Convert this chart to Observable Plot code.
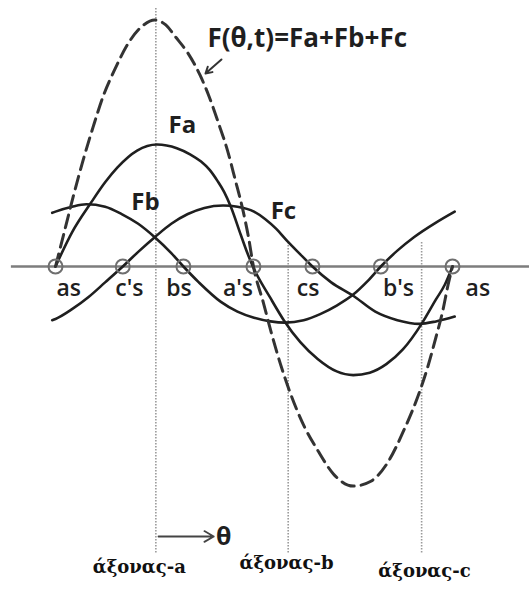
<!DOCTYPE html>
<html>
<head>
<meta charset="utf-8">
<script src="https://cdn.jsdelivr.net/npm/d3@7"></script>
<script src="https://cdn.jsdelivr.net/npm/@observablehq/plot@0.6"></script>
<style>
  body { margin: 0; background: #fff; }
  #chart svg { display: block; }
</style>
</head>
<body>
<div id="chart"></div>
<script>
// Angle θ (degrees) along the air gap, measured from the as conductor.
// MMF values are in units of the phase-a peak.

const faTheta = [0, 15, 32, 45, 56, 74, 92, 110, 122, 132, 140, 147, 153, 159, 168, 174, 179, 195, 207, 222, 238, 255, 270, 285, 300, 315, 332, 345, 353, 360];
const faValue = [0, 0.28, 0.52, 0.69, 0.81, 0.95, 1.0, 0.97, 0.92, 0.86, 0.79, 0.70, 0.61, 0.49, 0.26, 0.11, 0, -0.26, -0.44, -0.62, -0.76, -0.86, -0.89, -0.87, -0.80, -0.68, -0.47, -0.27, -0.15, 0];

const fbTheta = [-3, 0, 15, 28, 45, 60, 75, 90, 105, 116, 130, 150, 165, 180, 195, 208, 225, 240, 255, 270, 283, 295, 310, 325, 345, 362];
const fbValue = [0.44, 0.45, 0.49, 0.51, 0.49, 0.43, 0.35, 0.24, 0.11, 0, -0.13, -0.29, -0.37, -0.42, -0.45, -0.46, -0.44, -0.39, -0.32, -0.23, -0.12, 0, 0.13, 0.24, 0.36, 0.45];

const fcTheta = [-3, 0, 15, 30, 45, 61, 75, 90, 105, 120, 135, 152, 165, 180, 190, 200, 210, 222, 233, 250, 270, 290, 310, 330, 345, 362];
const fcValue = [-0.44, -0.43, -0.35, -0.25, -0.13, 0, 0.12, 0.24, 0.35, 0.43, 0.48, 0.50, 0.49, 0.45, 0.39, 0.31, 0.21, 0.10, 0, -0.13, -0.24, -0.37, -0.44, -0.47, -0.45, -0.41];

// Resultant F(θ,t) = Fa + Fb + Fc (dashed)
const fTheta = [0, 9, 16, 25, 34, 43, 54, 66, 80, 90, 100, 109, 120, 131, 139, 148, 156, 163, 170, 175, 179.5, 188.6, 195, 204, 213, 225, 238, 252, 270, 286, 301, 316, 328, 337, 345, 351, 356, 360];
const fValue = [0, 0.32, 0.57, 0.87, 1.14, 1.39, 1.62, 1.83, 1.98, 2.02, 1.98, 1.88, 1.75, 1.57, 1.40, 1.17, 0.95, 0.71, 0.46, 0.24, 0, -0.30, -0.52, -0.80, -1.04, -1.30, -1.51, -1.70, -1.80, -1.76, -1.61, -1.34, -1.08, -0.84, -0.58, -0.37, -0.15, 0];

// Conductor positions (zero crossings) and their names
const conductorTheta = [0, 61, 116, 179.5, 233, 295, 360];
const conductorNames = ["as", "c's", "bs", "a's", "cs", "b's", "as"];

// Magnetic axes of the three phases
const axisTheta = [91, 211, 332];
const axisNames = ["άξονας-a", "άξονας-b", "άξονας-c"];

const curveNames = ["Fa", "Fb", "Fc"];
const totalName = "F(θ,t)=Fa+Fb+Fc";

const rows = (ts, vs) => ts.map((t, i) => ({t, v: vs[i]}));
const conductors = conductorTheta.map((t, i) => ({t, v: 0, name: conductorNames[i]}));

const ink = "#1f1f1f";
const labelFont = "'Open Sans', 'DejaVu Sans', sans-serif";
const axisFont = "'DejaVu Serif', serif";

// label nudges (in θ degrees) under each conductor circle
const conductorLabelShift = [12, 6, -4, -14, -4, 16, 23];

const chart = Plot.plot({
  width: 529,
  height: 589,
  margin: 0,
  x: {domain: [0, 360], range: [55, 452], axis: null},
  y: {domain: [-1, 1], range: [388, 144], axis: null},
  style: {background: "#fff", overflow: "visible"},
  marks: [
    // dotted magnetic-axis guides
    Plot.ruleX([axisTheta[0]], {y1: 2.115, y2: -2.352, stroke: "#9a9a9a", strokeWidth: 1.6, strokeDasharray: "1.5,1.5"}),
    Plot.ruleX(axisTheta.slice(1), {y1: 0.197, y2: -2.352, stroke: "#9a9a9a", strokeWidth: 1.6, strokeDasharray: "1.5,1.5"}),
    // θ = air-gap axis
    Plot.ruleY([0], {x1: -40, x2: 430, stroke: "#7d7d7d", strokeWidth: 2.5}),
    // phase MMFs
    Plot.line(rows(faTheta, faValue), {x: "t", y: "v", curve: "monotone-x", stroke: ink, strokeWidth: 2.6}),
    Plot.line(rows(fbTheta, fbValue), {x: "t", y: "v", curve: "monotone-x", stroke: ink, strokeWidth: 2.6}),
    Plot.line(rows(fcTheta, fcValue), {x: "t", y: "v", curve: "monotone-x", stroke: ink, strokeWidth: 2.6}),
    // resultant MMF
    Plot.line(rows(fTheta, fValue), {x: "t", y: "v", curve: "monotone-x", stroke: "#333", strokeWidth: 3, strokeDasharray: "13,7"}),
    // conductor circles
    Plot.dot(conductors, {x: "t", y: "v", r: 7, stroke: "#6e6e6e", strokeWidth: 2, fill: "none"}),
    Plot.text(conductors, {
      x: (d, i) => d.t + conductorLabelShift[i], y: -0.18, text: "name",
      fontFamily: labelFont, fontSize: 23, fontWeight: 600, fill: ink
    }),
    // curve names
    Plot.text([curveNames[0]], {x: 115, y: 1.16, text: d => d, fontFamily: labelFont, fontSize: 24, fontWeight: 700, fill: ink}),
    Plot.text([curveNames[1]], {x: 81.6, y: 0.53, text: d => d, fontFamily: labelFont, fontSize: 24, fontWeight: 700, fill: ink}),
    Plot.text([curveNames[2]], {x: 206.7, y: 0.45, text: d => d, fontFamily: labelFont, fontSize: 24, fontWeight: 700, fill: ink}),
    // resultant label with pointer
    Plot.text([totalName], {x: 137.8, y: 1.87, text: d => d, textAnchor: "start", fontFamily: labelFont, fontSize: 26, fontWeight: 700, fill: ink, letterSpacing: "2.4px"}),
    Plot.arrow([0], {x1: 150.5, y1: 1.697, x2: 136, y2: 1.582, stroke: "#333", strokeWidth: 2, headLength: 8}),
    // direction of θ
    Plot.arrow([0], {x1: 93.4, y1: -2.213, x2: 143.5, y2: -2.213, stroke: "#444", strokeWidth: 1.8, headLength: 9}),
    Plot.text(["θ"], {x: 152.5, y: -2.22, text: d => d, fontFamily: labelFont, fontSize: 25, fontWeight: 700, fill: ink}),
    // axis names
    Plot.text([axisNames[0]], {x: 76, y: -2.467, text: d => d, fontFamily: axisFont, fontSize: 18, fontWeight: 700, fill: "#111"}),
    Plot.text([axisNames[1]], {x: 209.5, y: -2.434, text: d => d, fontFamily: axisFont, fontSize: 18, fontWeight: 700, fill: "#111"}),
    Plot.text([axisNames[2]], {x: 334.6, y: -2.5, text: d => d, fontFamily: axisFont, fontSize: 18, fontWeight: 700, fill: "#111"})
  ]
});

document.getElementById("chart").append(chart);
</script>
</body>
</html>
